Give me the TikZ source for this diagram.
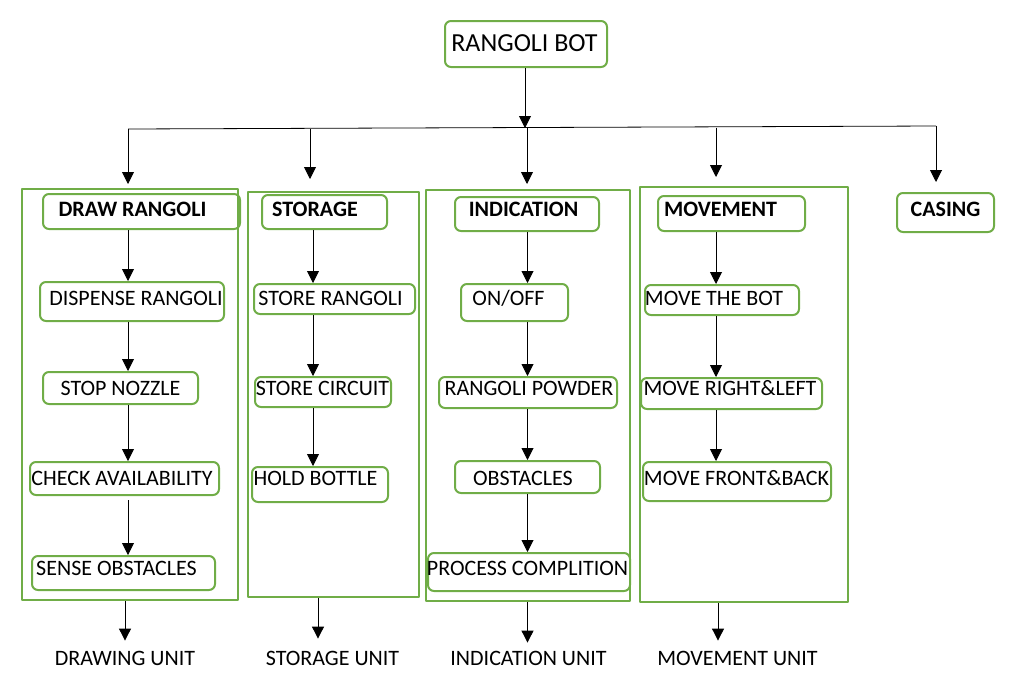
\documentclass[tikz,border=0pt]{standalone}
\usepackage{fontspec}
\setmainfont{Carlito}
\usetikzlibrary{arrows.meta}
\definecolor{boxgreen}{HTML}{70AD47}
\begin{document}
\begin{tikzpicture}[x=1pt,y=-1pt,line join=round,>={Stealth[inset=0pt,length=12pt,width=12pt]},
	unit/.style={draw=boxgreen,line width=2pt,inner sep=0pt},
	box/.style={draw=boxgreen,line width=2pt,rounded corners=6pt,inner sep=0pt},
	txt/.style={inner sep=0pt,font=\fontsize{22}{26}\selectfont},
	head/.style={inner sep=0pt,font=\fontsize{22}{26}\selectfont\bfseries},
	link/.style={->,line width=0.9pt}]
	\useasboundingbox (0,0) rectangle (1027,686);
	%% title
	\node[box,minimum width=162,minimum height=46] (title) at (526,44) {};
	\node[txt,font=\fontsize{26}{30}\selectfont] (title-t) at (524.5,43) {RANGOLI BOT};
	%% outer units
	\node[unit,minimum width=216,minimum height=411] (drawc) at (130,394.5) {};
	\node[unit,minimum width=171,minimum height=405] (storc) at (333.5,394.5) {};
	\node[unit,minimum width=204,minimum height=411] (indc) at (528,395.5) {};
	\node[unit,minimum width=208,minimum height=415] (movec) at (744,394.5) {};
	%% headers
	\node[box,minimum width=197,minimum height=35] (drawh) at (141.5,211.5) {};
	\node[head] (drawh-t) at (132.5,209) {DRAW RANGOLI};
	\node[box,minimum width=125,minimum height=34] (storh) at (324.5,212) {};
	\node[head] (storh-t) at (315,209) {STORAGE};
	\node[box,minimum width=144,minimum height=34] (indh) at (527,214) {};
	\node[head] (indh-t) at (523.5,209) {INDICATION};
	\node[box,minimum width=147,minimum height=35] (moveh) at (731.5,213.5) {};
	\node[head] (moveh-t) at (720.5,209) {MOVEMENT};
	\node[box,minimum width=97,minimum height=39] (casing) at (945.5,212.5) {};
	\node[head] (casing-t) at (945.5,209) {CASING};
	%% drawing unit
	\node[box,minimum width=184,minimum height=39] (dispense) at (132,301.5) {};
	\node[txt] (dispense-t) at (136,298) {DISPENSE RANGOLI};
	\node[box,minimum width=155,minimum height=32] (nozzle) at (120.5,388) {};
	\node[txt] (nozzle-t) at (120.5,388) {STOP NOZZLE};
	\node[box,minimum width=189,minimum height=33] (check) at (124.5,478.5) {};
	\node[txt] (check-t) at (122,478) {CHECK AVAILABILITY};
	\node[box,minimum width=183,minimum height=34] (sense) at (123.5,573) {};
	\node[txt] (sense-t) at (116.5,568) {SENSE OBSTACLES};
	%% storage unit
	\node[box,minimum width=161,minimum height=30] (storer) at (334.5,299) {};
	\node[txt] (storer-t) at (330.5,298) {STORE RANGOLI};
	\node[box,minimum width=136,minimum height=30] (storec) at (323,392) {};
	\node[txt] (storec-t) at (322.5,388) {STORE CIRCUIT};
	\node[box,minimum width=136,minimum height=35] (hold) at (320,484.5) {};
	\node[txt] (hold-t) at (315.5,478) {HOLD BOTTLE};
	%% indication unit
	\node[box,minimum width=107,minimum height=37] (onoff) at (514.5,302.5) {};
	\node[txt] (onoff-t) at (508.5,298) {ON/OFF};
	\node[box,minimum width=178,minimum height=31] (powder) at (528,392.5) {};
	\node[txt] (powder-t) at (529,388) {RANGOLI POWDER};
	\node[box,minimum width=145,minimum height=32] (obst) at (527.5,477) {};
	\node[txt] (obst-t) at (523,478) {OBSTACLES};
	\node[box,minimum width=202,minimum height=38] (process) at (529,572) {};
	\node[txt] (process-t) at (527.5,568) {PROCESS COMPLITION};
	%% movement unit
	\node[box,minimum width=154,minimum height=30] (movebot) at (722,300) {};
	\node[txt] (movebot-t) at (714,298) {MOVE THE BOT};
	\node[box,minimum width=181,minimum height=31] (moverl) at (731.5,393.5) {};
	\node[txt] (moverl-t) at (730,388) {MOVE RIGHT\&LEFT};
	\node[box,minimum width=188,minimum height=39] (movefb) at (737,481.5) {};
	\node[txt] (movefb-t) at (736.5,478) {MOVE FRONT\&BACK};
	%% unit names
	\node[txt] (drawu) at (125,658) {DRAWING UNIT};
	\node[txt] (storu) at (332.5,658) {STORAGE UNIT};
	\node[txt] (indu) at (528.5,658) {INDICATION UNIT};
	\node[txt] (moveu) at (737.5,658) {MOVEMENT UNIT};
	%% branch line
	\coordinate (hl) at (128,129);
	\coordinate (hs) at (310,128.5);
	\coordinate (hm) at (525,128);
	\coordinate (hi) at (527,128);
	\coordinate (hv) at (716,127.5);
	\coordinate (hr) at (936,126);
	\draw[line width=0.8pt] (hl)--(hr);
	\draw[link] (title.south -| hm)--(hm);
	\draw[link,shorten >=4pt] (hl)--(drawc.north -| hl);
	\draw[link,shorten >=12pt] (hs)--(storc.north -| hs);
	\draw[link,shorten >=5pt] (hi)--(indc.north -| hi);
	\draw[link,shorten >=9pt] (hv)--(movec.north -| hv);
	\draw[link,shorten >=10pt] (hr)--(casing.north -| hr);
	%% column arrows
	\coordinate (cd) at (128,0);
	\coordinate (cs) at (313,0);
	\coordinate (ci) at (527.5,0);
	\coordinate (cm) at (716,0);
	\draw[link] (drawh.south -| cd)--(dispense.north -| cd);
	\draw[link] (dispense.south -| cd)--(nozzle.north -| cd);
	\draw[link] (nozzle.south -| cd)--(check.north -| cd);
	\draw[link,shorten <=4pt] (check.south -| cd)--(sense.north -| cd);
	\draw[link] (storh.south -| cs)--(storer.north -| cs);
	\draw[link] (storer.south -| cs)--(storec.north -| cs);
	\draw[link] (storec.south -| cs)--(hold.north -| cs);
	\draw[link] (indh.south -| ci)--(onoff.north -| ci);
	\draw[link] (onoff.south -| ci)--(powder.north -| ci);
	\draw[link] (powder.south -| ci)--(obst.north -| ci);
	\draw[link] (obst.south -| ci)--(process.north -| ci);
	\draw[link] (moveh.south -| cm)--(movebot.north -| cm);
	\draw[link] (movebot.south -| cm)--(moverl.north -| cm);
	\draw[link] (moverl.south -| cm)--(movefb.north -| cm);
	%% to unit names
	\draw[link,shorten >=10pt] (drawc.south -| drawu)--(drawu.north);
	\draw[link,shorten >=12pt] (storc.south -| 318,0)--(storu.north -| 318,0);
	\draw[link,shorten >=8pt] (indc.south -| ci)--(indu.north -| ci);
	\draw[link,shorten >=10pt] (movec.south -| 718,0)--(moveu.north -| 718,0);
\end{tikzpicture}
\end{document}
